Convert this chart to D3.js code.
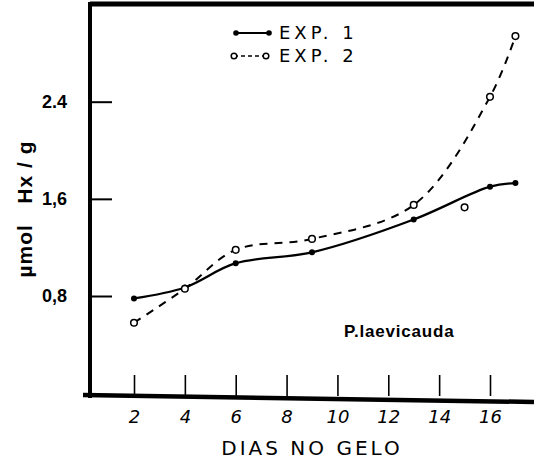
<!DOCTYPE html>
<html>
<head>
<meta charset="utf-8">
<script src="https://cdn.jsdelivr.net/npm/d3@7"></script>
<style>
  body { margin: 0; background: #fff; }
  svg { display: block; }
</style>
</head>
<body>
<script>
// dias no gelo
const exp1Days = [2, 4, 6, 9, 13, 16, 17];
const exp1Values = [0.78, 0.87, 1.07, 1.16, 1.43, 1.70, 1.73];

const exp2Days = [2, 4, 6, 9, 13, 15, 16, 17];
const exp2Values = [0.58, 0.86, 1.18, 1.27, 1.55, 1.53, 2.44, 2.94];
// the hand-drawn dashed curve leaves the day 15 point off
const exp2OnCurve = [true, true, true, true, true, false, true, true];

const xTicks = [2, 4, 6, 8, 10, 12, 14, 16];
const yTicks = [0.8, 1.6, 2.4];
const yTickLabels = ['0,8', '1,6', '2.4'];

const width = 534, height = 466;

const svg = d3.select('body').append('svg')
    .attr('width', width)
    .attr('height', height);

const x = d3.scaleLinear().domain([2, 16]).range([134, 490]);
const y = d3.scaleLinear().domain([0.8, 2.4]).range([296, 101.7]);

// frame (thick hand-drawn lines)
svg.append('path')
    .attr('d', 'M90,4 L534,4')
    .attr('stroke', '#000').attr('stroke-width', 5).attr('fill', 'none');
svg.append('path')
    .attr('d', 'M90,2 L90,398')
    .attr('stroke', '#000').attr('stroke-width', 4).attr('fill', 'none');
svg.append('path')
    .attr('d', 'M83,395 L534,402')
    .attr('stroke', '#000').attr('stroke-width', 4.5).attr('fill', 'none');

// y axis, ticks pointing inward
const yAxis = svg.append('g')
    .attr('transform', 'translate(90,0)')
    .call(d3.axisLeft(y)
        .tickValues(yTicks)
        .tickSize(-22)
        .tickPadding(23)
        .tickFormat((d, i) => yTickLabels[i]));
yAxis.select('.domain').remove();
yAxis.selectAll('line').attr('stroke', '#000').attr('stroke-width', 2);
yAxis.selectAll('text')
    .attr('font-family', 'Liberation Sans, Arial, sans-serif')
    .attr('font-weight', 'bold')
    .attr('font-size', 18)
    .attr('fill', '#000');

// x axis, ticks pointing up
const xAxis = svg.append('g')
    .attr('transform', 'translate(0,396)')
    .call(d3.axisBottom(x)
        .tickValues(xTicks)
        .tickSize(-21)
        .tickPadding(14));
xAxis.select('.domain').remove();
xAxis.selectAll('line').attr('stroke', '#000').attr('stroke-width', 1.6);
xAxis.selectAll('text')
    .attr('font-family', 'DejaVu Sans, sans-serif')
    .attr('font-style', 'italic')
    .attr('font-size', 18)
    .attr('fill', '#000');

// axis titles
svg.append('text')
    .attr('x', 312).attr('y', 455)
    .attr('text-anchor', 'middle')
    .attr('font-family', 'DejaVu Sans, sans-serif')
    .attr('font-size', 20)
    .attr('letter-spacing', 3)
    .text('DIAS NO GELO');

svg.append('text')
    .attr('transform', 'translate(32,209) rotate(-90)')
    .attr('text-anchor', 'middle')
    .attr('font-family', 'Liberation Sans, Arial, sans-serif')
    .attr('font-weight', 'bold')
    .attr('font-size', 21)
    .attr('letter-spacing', 1)
    .attr('xml:space', 'preserve')
    .text('µmol   Hx / g');

svg.append('text')
    .attr('x', 344).attr('y', 337)
    .attr('font-family', 'Liberation Sans, Arial, sans-serif')
    .attr('font-weight', 'bold')
    .attr('font-size', 17)
    .attr('letter-spacing', 0.8)
    .text('P.laevicauda');

// series
const exp1 = exp1Days.map((d, i) => ({day: d, value: exp1Values[i]}));
const exp2 = exp2Days.map((d, i) => ({day: d, value: exp2Values[i], onCurve: exp2OnCurve[i]}));

const line = d3.line()
    .x(d => x(d.day))
    .y(d => y(d.value))
    .curve(d3.curveCatmullRom.alpha(0.5));

svg.append('path')
    .datum(exp2.filter(d => d.onCurve))
    .attr('d', line)
    .attr('fill', 'none')
    .attr('stroke', '#000')
    .attr('stroke-width', 2)
    .attr('stroke-dasharray', '8,7');

svg.append('path')
    .datum(exp1)
    .attr('d', line)
    .attr('fill', 'none')
    .attr('stroke', '#000')
    .attr('stroke-width', 2.3);

svg.selectAll('.p1')
    .data(exp1)
    .enter().append('circle')
    .attr('class', 'p1')
    .attr('cx', d => x(d.day))
    .attr('cy', d => y(d.value))
    .attr('r', 3)
    .attr('fill', '#000');

svg.selectAll('.p2')
    .data(exp2)
    .enter().append('circle')
    .attr('class', 'p2')
    .attr('cx', d => x(d.day))
    .attr('cy', d => y(d.value))
    .attr('r', 3.3)
    .attr('fill', '#fff')
    .attr('stroke', '#000')
    .attr('stroke-width', 1.5);

// legend
const legend = svg.append('g');
legend.append('line')
    .attr('x1', 236).attr('x2', 269).attr('y1', 33).attr('y2', 33)
    .attr('stroke', '#000').attr('stroke-width', 2);
legend.selectAll('.l1')
    .data([236, 269]).enter().append('circle')
    .attr('cx', d => d).attr('cy', 33).attr('r', 2.8).attr('fill', '#000');
legend.append('line')
    .attr('x1', 234).attr('x2', 266).attr('y1', 56).attr('y2', 56)
    .attr('stroke', '#000').attr('stroke-width', 1.6)
    .attr('stroke-dasharray', '4,3');
legend.selectAll('.l2')
    .data([234, 266]).enter().append('circle')
    .attr('cx', d => d).attr('cy', 56).attr('r', 2.8)
    .attr('fill', '#fff').attr('stroke', '#000').attr('stroke-width', 1.5);

legend.selectAll('.lt')
    .data(['EXP. 1', 'EXP. 2']).enter().append('text')
    .attr('x', 279)
    .attr('y', (d, i) => 39 + i * 23)
    .attr('font-family', 'DejaVu Sans, sans-serif')
    .attr('font-size', 18)
    .attr('letter-spacing', 4)
    .text(d => d);
</script>
</body>
</html>
